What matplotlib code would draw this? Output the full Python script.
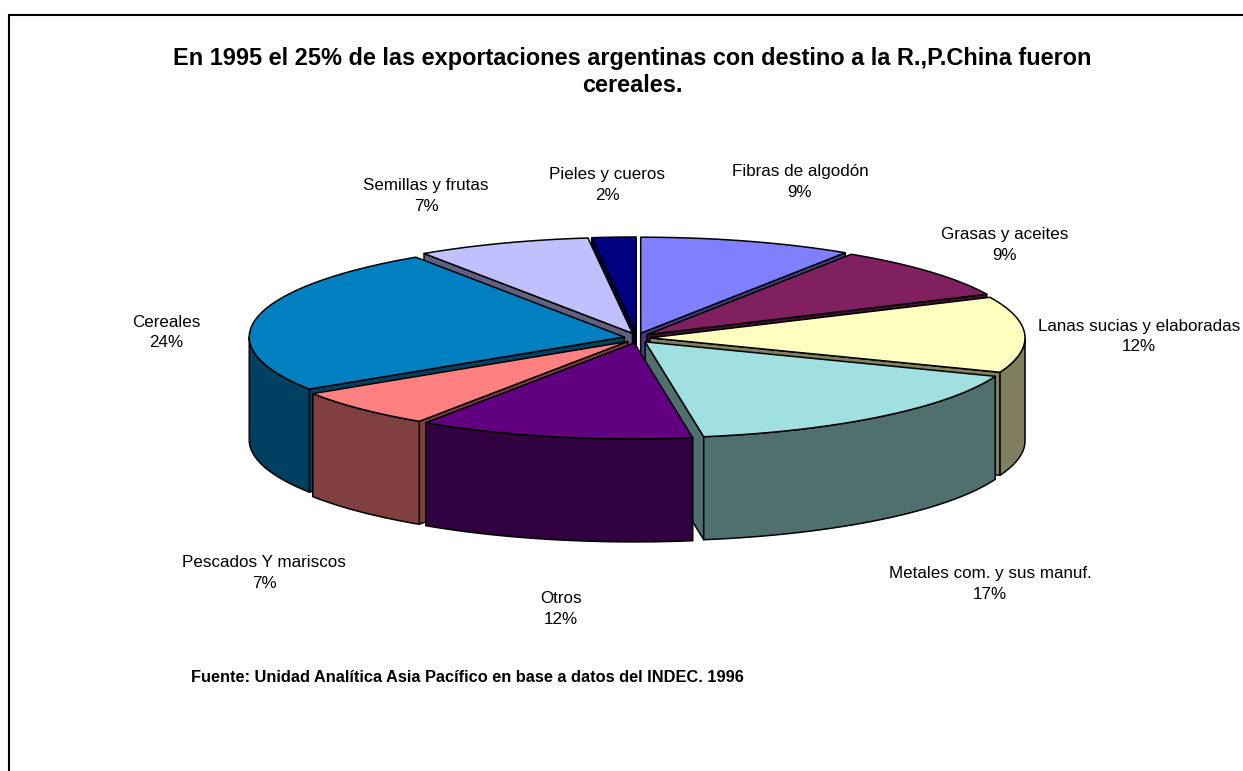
"""Exploded 3D style pie of Argentine exports to China, 1995."""

import numpy as np
import matplotlib

matplotlib.use("Agg")
import matplotlib.pyplot as plt

plt.rcParams["font.family"] = ["Liberation Sans", "DejaVu Sans"]

# Data
categories = [
    "Fibras de algodón",
    "Grasas y aceites",
    "Lanas sucias y elaboradas",
    "Metales com. y sus manuf.",
    "Otros",
    "Pescados Y mariscos",
    "Cereales",
    "Semillas y frutas",
    "Pieles y cueros",
]
shares = [9.2, 8.9, 12.8, 16.7, 11.9, 6.5, 24.8, 7.5, 1.9]
pct_labels = ["9%", "9%", "12%", "17%", "12%", "7%", "24%", "7%", "2%"]
colors = [
    "#8080FF",
    "#802060",
    "#FFFFC0",
    "#A0E0E0",
    "#600080",
    "#FF8080",
    "#0080C0",
    "#C0C0FF",
    "#000080",
]
title = (
    "En 1995 el 25% de las exportaciones argentinas con destino a la R.,P.China fueron\n"
    "cereales."
)
source = "Fuente: Unidad Analítica Asia Pacífico en base a datos del INDEC. 1996"

# Layout, in pixels of the output image
W, H = 1243, 771
CX, CY = 637, 338
RX, RY = 375, 96
DEPTH = 103
EXPLODE_X, EXPLODE_Y = 13, 5
label_pos = [
    (800, 182),
    (1005, 245),
    (1139, 336.5),
    (990, 584),
    (561, 609),
    (264, 573),
    (166, 332.5),
    (426, 196),
    (607, 185),
]


def shade(color):
    rgb = np.array(matplotlib.colors.to_rgb(color))
    return tuple(rgb * 0.5)


def rim(t, ox, oy):
    """Points on the top ellipse; t in degrees, clockwise from the top."""
    rad = np.radians(t)
    return ox + RX * np.sin(rad), oy - RY * np.cos(rad)


def draw_slice(ax, t0, t1, color):
    mid = np.radians((t0 + t1) / 2)
    ox = CX + EXPLODE_X * np.sin(mid)
    oy = CY - EXPLODE_Y * np.cos(mid)
    dark = shade(color)
    style = dict(edgecolor="black", linewidth=1.1, joinstyle="round")

    # cut faces, only the ones turned towards the viewer
    for t, visible in ((t0, np.sin(np.radians(t0)) < 0), (t1, np.sin(np.radians(t1)) > 0)):
        if visible:
            rx_pt, ry_pt = rim(t, ox, oy)
            ax.fill(
                [ox, rx_pt, rx_pt, ox],
                [oy, ry_pt, ry_pt + DEPTH, oy + DEPTH],
                facecolor=dark,
                **style,
            )

    # outer wall
    lo, hi = max(t0, 90), min(t1, 270)
    if hi > lo:
        xs, ys = rim(np.linspace(lo, hi, 80), ox, oy)
        ax.fill(
            np.r_[xs, xs[::-1]],
            np.r_[ys, ys[::-1] + DEPTH],
            facecolor=dark,
            **style,
        )

    # top face
    xs, ys = rim(np.linspace(t0, t1, 120), ox, oy)
    ax.fill(np.r_[ox, xs], np.r_[oy, ys], facecolor=color, **style)


def main():
    fig = plt.figure(figsize=(W / 100, H / 100), dpi=100)
    ax = fig.add_axes([0, 0, 1, 1])
    ax.set_xlim(0, W)
    ax.set_ylim(H, 0)
    ax.axis("off")

    # chart frame, cut off by the image on the right and bottom
    ax.plot([9, 9, W], [H, 15, 15], color="black", linewidth=1.5, solid_joinstyle="miter")

    edges = np.r_[0, np.cumsum(shares)] / np.sum(shares) * 360
    spans = list(zip(edges[:-1], edges[1:], colors))
    # paint from the back of the pie to the front
    spans.sort(key=lambda s: -np.cos(np.radians((s[0] + s[1]) / 2)))
    for t0, t1, color in spans:
        draw_slice(ax, t0, t1, color)

    for name, pct, (x, y) in zip(categories, pct_labels, label_pos):
        ax.text(x, y, f"{name}\n{pct}", ha="center", va="center", fontsize=12.25, linespacing=1.44)

    ax.text(632, 72, title, ha="center", va="center", fontsize=16.9, fontweight="bold", linespacing=1.25)
    ax.text(191, 678, source, ha="left", va="center", fontsize=11.75, fontweight="bold")

    fig.savefig("out.png", dpi=100)


if __name__ == "__main__":
    main()
